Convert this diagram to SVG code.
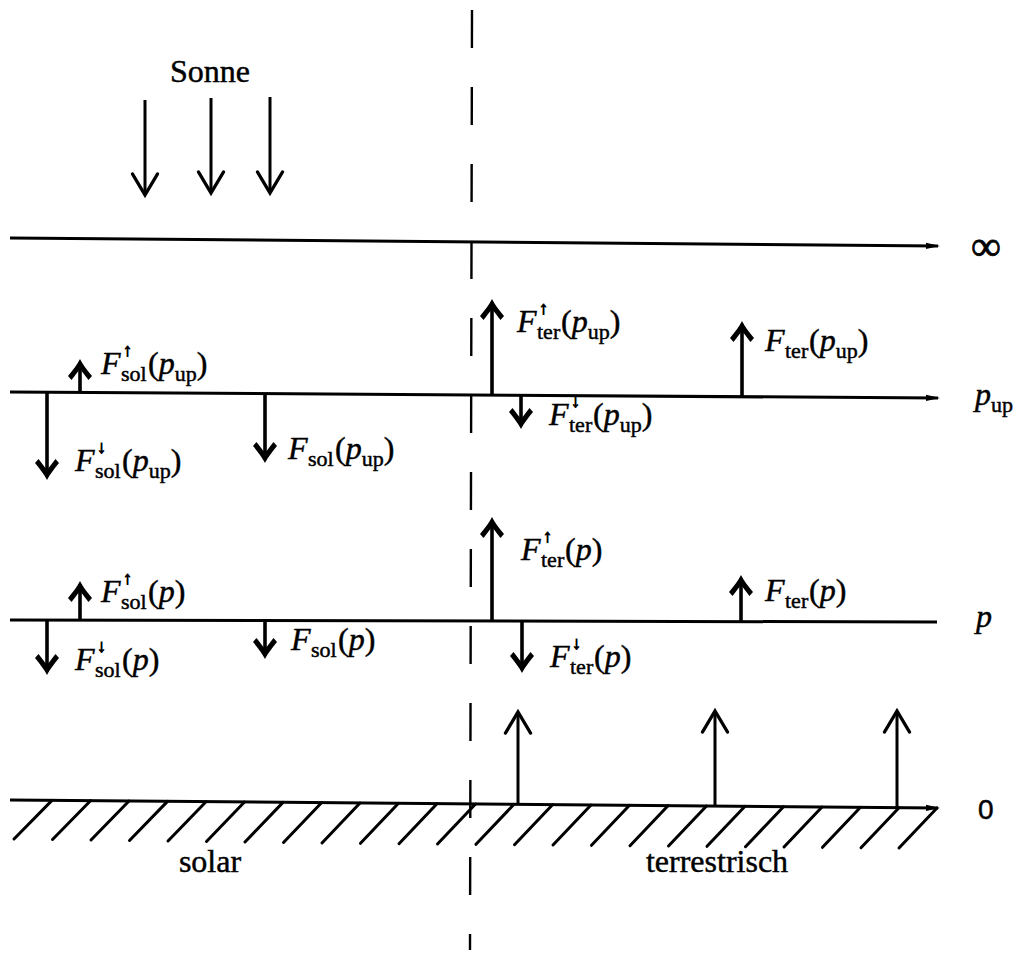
<svg xmlns="http://www.w3.org/2000/svg" width="1019" height="954" viewBox="0 0 1019 954">
  <style>
    .bg { fill: #ffffff; }
    .lvl { stroke: #000; stroke-width: 3; fill: none; }
    .sep { stroke: #000; stroke-width: 2.4; fill: none; stroke-dasharray: 38 39; }
    .hatch { stroke: #000; stroke-width: 3; stroke-linecap: round; }
    .flux { stroke: #000; stroke-width: 3.6; fill: none; marker-end: url(#bold); }
    .ray { stroke: #000; stroke-width: 3; fill: none; marker-end: url(#vee); }
    text { font-family: "Liberation Serif", "DejaVu Serif", serif; fill: #000; stroke: #000; stroke-width: 0.45; }
    .m { font-size: 32px; }
    .s { font-size: 22px; }
    .a { font-size: 18px; stroke-width: 1; }
    .it { font-style: italic; }
    .inf { font-size: 42px; stroke-width: 0.8; }
    .zero { font-family: "Liberation Sans", Arial, sans-serif; font-size: 28px; stroke-width: 0.5; }
  </style>
  <defs>
    <!-- bold barbed head used for the flux arrows -->
    <marker id="bold" markerUnits="userSpaceOnUse" viewBox="-24 -14 28 28" refX="-2" refY="0" markerWidth="28" markerHeight="28" orient="auto" overflow="visible">
      <path d="M1,0 C-4,2.5 -10,7 -16,12 L-20,8.5 C-15,4.5 -11.5,2 -9,0 C-11.5,-2 -15,-4.5 -20,-8.5 L-16,-12 C-10,-7 -4,-2.5 1,0 Z" fill="#000"/>
    </marker>
    <!-- open V head for the incoming solar and ground emission rays -->
    <marker id="vee" markerUnits="userSpaceOnUse" viewBox="-26 -16 30 32" refX="0" refY="0" markerWidth="30" markerHeight="32" orient="auto" overflow="visible">
      <path d="M-21,-12.5 L0,0 L-21,12.5" fill="none" stroke="#000" stroke-width="3.4" stroke-linecap="round"/>
    </marker>
    <!-- small pointed end of the level lines -->
    <marker id="tip" markerUnits="userSpaceOnUse" viewBox="-16 -5 18 10" refX="-2" refY="0" markerWidth="18" markerHeight="10" orient="auto" overflow="visible">
      <path d="M0,0 L-14,-3.2 L-14,3.2 Z" fill="#000"/>
    </marker>
  </defs>

  <rect class="bg" x="0" y="0" width="1019" height="954"/>

  <!-- solar / terrestrial separator -->
  <g id="separator">
    <line class="sep" x1="472" y1="10" x2="470" y2="950"/>
  </g>

  <!-- pressure levels -->
  <g id="level-inf">
    <line class="lvl" x1="10" y1="238" x2="938" y2="246" marker-end="url(#tip)"/>
    <text class="inf" x="971" y="260">∞</text>
  </g>
  <g id="level-pup">
    <line class="lvl" x1="10" y1="392" x2="938" y2="398" marker-end="url(#tip)"/>
    <text class="m" x="975" y="405"><tspan class="it">p</tspan><tspan class="s" dy="7">up</tspan></text>
  </g>
  <g id="level-p">
    <line class="lvl" x1="10" y1="620" x2="937" y2="622"/>
    <text class="m it" x="976" y="627">p</text>
  </g>
  <g id="ground">
    <line class="lvl" x1="10" y1="800" x2="938" y2="808" marker-end="url(#tip)"/>
    <g class="hatch">
      <line x1="52" y1="800.4" x2="14" y2="839"/>
      <line x1="90.5" y1="800.7" x2="52.5" y2="839.5"/>
      <line x1="129" y1="801" x2="91" y2="840"/>
      <line x1="167.5" y1="801.4" x2="129.5" y2="840.5"/>
      <line x1="206" y1="801.7" x2="168" y2="841"/>
      <line x1="244.5" y1="802" x2="206.5" y2="841.5"/>
      <line x1="283" y1="802.4" x2="245" y2="842"/>
      <line x1="321.5" y1="802.7" x2="283.5" y2="842.5"/>
      <line x1="360" y1="803" x2="322" y2="843"/>
      <line x1="398.5" y1="803.3" x2="360.5" y2="843.3"/>
      <line x1="437" y1="803.7" x2="399" y2="843.7"/>
      <line x1="475.5" y1="804" x2="437.5" y2="844"/>
      <line x1="514" y1="804.3" x2="476" y2="844.3"/>
      <line x1="552.5" y1="804.7" x2="514.5" y2="844.7"/>
      <line x1="591" y1="805" x2="553" y2="845"/>
      <line x1="629.5" y1="805.3" x2="591.5" y2="845.3"/>
      <line x1="668" y1="805.7" x2="630" y2="845.7"/>
      <line x1="706.5" y1="806" x2="668.5" y2="846"/>
      <line x1="745" y1="806.3" x2="707" y2="846.3"/>
      <line x1="783.5" y1="806.7" x2="745.5" y2="846.7"/>
      <line x1="822" y1="807" x2="784" y2="847"/>
      <line x1="860.5" y1="807.3" x2="822.5" y2="847.3"/>
      <line x1="899" y1="807.7" x2="861" y2="847.7"/>
      <line x1="937" y1="808" x2="899" y2="848"/>
    </g>
    <text class="zero" x="978" y="819">0</text>
  </g>

  <!-- region captions -->
  <g id="caption-sun"><text class="m" x="210" y="82" text-anchor="middle">Sonne</text></g>
  <g id="caption-solar"><text class="m" x="210" y="872" text-anchor="middle">solar</text></g>
  <g id="caption-terrestrial"><text class="m" x="717" y="872" text-anchor="middle">terrestrisch</text></g>

  <!-- arrows -->
  <g id="connectors">
    <line class="ray" x1="145" y1="100" x2="145" y2="195"/>
    <line class="ray" x1="211" y1="98" x2="211" y2="193"/>
    <line class="ray" x1="270" y1="97" x2="270" y2="193"/>

    <line class="flux" x1="80" y1="392" x2="80" y2="362"/>
    <line class="flux" x1="47" y1="392" x2="47" y2="477"/>
    <line class="flux" x1="265" y1="393" x2="265" y2="460"/>
    <line class="flux" x1="492" y1="394" x2="492" y2="302"/>
    <line class="flux" x1="742" y1="396" x2="742" y2="324"/>
    <line class="flux" x1="521" y1="395" x2="521" y2="426"/>

    <line class="flux" x1="80" y1="620" x2="80" y2="584"/>
    <line class="flux" x1="47" y1="620" x2="47" y2="672"/>
    <line class="flux" x1="265" y1="620" x2="265" y2="656"/>
    <line class="flux" x1="492" y1="621" x2="492" y2="520"/>
    <line class="flux" x1="741" y1="621" x2="741" y2="578"/>
    <line class="flux" x1="522" y1="622" x2="522" y2="670"/>

    <line class="ray" x1="518" y1="804" x2="518" y2="712"/>
    <line class="ray" x1="715" y1="806" x2="715" y2="711"/>
    <line class="ray" x1="897" y1="808" x2="897" y2="711"/>
  </g>

  <!-- flux labels at p_up -->
  <g id="label-sol-up-pup">
    <text class="m it" x="101" y="374">F</text>
    <text class="a" x="123" y="356">↑</text>
    <text class="s" x="121" y="381">sol</text>
    <text class="m" x="148" y="374">(<tspan class="it">p</tspan><tspan class="s" dy="7">up</tspan><tspan dy="-7">)</tspan></text>
  </g>
  <g id="label-sol-down-pup">
    <text class="m it" x="75" y="471">F</text>
    <text class="a" x="97" y="453">↓</text>
    <text class="s" x="95" y="478">sol</text>
    <text class="m" x="122" y="471">(<tspan class="it">p</tspan><tspan class="s" dy="7">up</tspan><tspan dy="-7">)</tspan></text>
  </g>
  <g id="label-sol-pup">
    <text class="m it" x="288" y="459">F</text>
    <text class="s" x="308" y="466">sol</text>
    <text class="m" x="335" y="459">(<tspan class="it">p</tspan><tspan class="s" dy="7">up</tspan><tspan dy="-7">)</tspan></text>
  </g>
  <g id="label-ter-up-pup">
    <text class="m it" x="517" y="332">F</text>
    <text class="a" x="539" y="314">↑</text>
    <text class="s" x="537" y="339">ter</text>
    <text class="m" x="561" y="332">(<tspan class="it">p</tspan><tspan class="s" dy="7">up</tspan><tspan dy="-7">)</tspan></text>
  </g>
  <g id="label-ter-pup">
    <text class="m it" x="765" y="351">F</text>
    <text class="s" x="785" y="358">ter</text>
    <text class="m" x="809" y="351">(<tspan class="it">p</tspan><tspan class="s" dy="7">up</tspan><tspan dy="-7">)</tspan></text>
  </g>
  <g id="label-ter-down-pup">
    <text class="m it" x="549" y="425">F</text>
    <text class="a" x="571" y="407">↓</text>
    <text class="s" x="569" y="432">ter</text>
    <text class="m" x="593" y="425">(<tspan class="it">p</tspan><tspan class="s" dy="7">up</tspan><tspan dy="-7">)</tspan></text>
  </g>

  <!-- flux labels at p -->
  <g id="label-sol-up-p">
    <text class="m it" x="101" y="602">F</text>
    <text class="a" x="123" y="584">↑</text>
    <text class="s" x="121" y="609">sol</text>
    <text class="m" x="148" y="602">(<tspan class="it">p</tspan>)</text>
  </g>
  <g id="label-sol-down-p">
    <text class="m it" x="75" y="670">F</text>
    <text class="a" x="97" y="652">↓</text>
    <text class="s" x="95" y="677">sol</text>
    <text class="m" x="122" y="670">(<tspan class="it">p</tspan>)</text>
  </g>
  <g id="label-sol-p">
    <text class="m it" x="291" y="650">F</text>
    <text class="s" x="311" y="657">sol</text>
    <text class="m" x="338" y="650">(<tspan class="it">p</tspan>)</text>
  </g>
  <g id="label-ter-up-p">
    <text class="m it" x="521" y="560">F</text>
    <text class="a" x="543" y="542">↑</text>
    <text class="s" x="541" y="567">ter</text>
    <text class="m" x="565" y="560">(<tspan class="it">p</tspan>)</text>
  </g>
  <g id="label-ter-p">
    <text class="m it" x="765" y="601">F</text>
    <text class="s" x="785" y="608">ter</text>
    <text class="m" x="809" y="601">(<tspan class="it">p</tspan>)</text>
  </g>
  <g id="label-ter-down-p">
    <text class="m it" x="550" y="667">F</text>
    <text class="a" x="572" y="649">↓</text>
    <text class="s" x="570" y="674">ter</text>
    <text class="m" x="594" y="667">(<tspan class="it">p</tspan>)</text>
  </g>
</svg>
